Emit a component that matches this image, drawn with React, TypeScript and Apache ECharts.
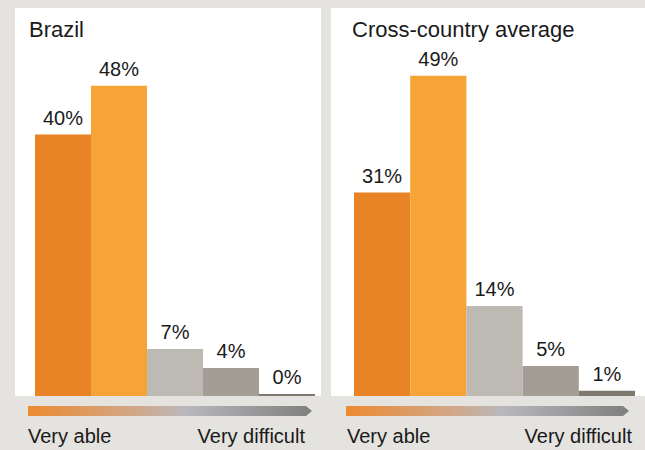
import React, { useEffect, useRef } from "react";
import * as echarts from "echarts";

const categories = ["Very able", "Able", "Somewhat difficult", "Difficult", "Very difficult"];
const brazilValues = [40.1, 47.6, 7.2, 4.3, 0.3];
const averageValues = [31.2, 49.1, 13.8, 4.6, 0.8];
const panelTitles = ["Brazil", "Cross-country average"];
const scaleLabels = ["Very able", "Very difficult"];
const barColors = ["#e98426", "#f5a435", "#bdb9b3", "#a39d95", "#7e786f"];

const FONT = "'Liberation Sans', Arial, sans-serif";

function arrowPoints(x0: number, x1: number, y: number, h: number, tip: number) {
  return [
    [x0, y],
    [x1 - tip, y],
    [x1, y + h / 2],
    [x1 - tip, y + h],
    [x0, y + h],
  ];
}

const gradient = () =>
  new echarts.graphic.LinearGradient(0, 0, 1, 0, [
    { offset: 0, color: "#ec8a30" },
    { offset: 0.4, color: "#cfa98e" },
    { offset: 0.55, color: "#b9b8bd" },
    { offset: 1, color: "#7f7f7f" },
  ]);

export default function App() {
  const ref = useRef<HTMLDivElement>(null);
  useEffect(() => {
    if (!ref.current) return;
    const chart = echarts.init(ref.current, null, { renderer: "svg" });
    const grids = [
      { left: 35, top: 70, width: 280, height: 326 },
      { left: 354, top: 70, width: 281, height: 326 },
    ];
    const mkSeries = (data: number[], idx: number) => ({
      type: "bar",
      xAxisIndex: idx,
      yAxisIndex: idx,
      barCategoryGap: "0%",
      data: data.map((v, i) => ({ value: v, itemStyle: { color: barColors[i] } })),
      label: {
        show: true,
        position: "top",
        distance: 7,
        fontSize: 20,
        fontFamily: FONT,
        color: "#1a1a1a",
        formatter: (p: any) => Math.round(p.value) + "%",
      },
    });
    chart.setOption({
      animation: false,
      backgroundColor: "#e4e3df",
      grid: grids,
      xAxis: grids.map((_, i) => ({
        type: "category",
        gridIndex: i,
        data: categories,
        show: false,
      })),
      yAxis: grids.map((_, i) => ({
        type: "value",
        gridIndex: i,
        min: 0,
        max: 50,
        show: false,
      })),
      series: [mkSeries(brazilValues, 0), mkSeries(averageValues, 1)],
      graphic: [
        { type: "rect", z: -10, shape: { x: 15, y: 8, width: 306, height: 388 }, style: { fill: "#ffffff" } },
        { type: "rect", z: -10, shape: { x: 331, y: 8, width: 314, height: 388 }, style: { fill: "#ffffff" } },
        {
          type: "text", x: 29, y: 29.5,
          style: { text: panelTitles[0], fontSize: 22, fontFamily: FONT, fill: "#1a1a1a", verticalAlign: "middle" },
        },
        {
          type: "text", x: 352, y: 29.5,
          style: { text: panelTitles[1], fontSize: 22, fontFamily: FONT, fill: "#1a1a1a", verticalAlign: "middle" },
        },
        { type: "polygon", shape: { points: arrowPoints(28, 312, 406, 10, 6) }, style: { fill: gradient() } },
        { type: "polygon", shape: { points: arrowPoints(346, 629, 406, 10, 6) }, style: { fill: gradient() } },
        {
          type: "text", x: 28, y: 436,
          style: { text: scaleLabels[0], fontSize: 20, fontFamily: FONT, fill: "#1a1a1a", verticalAlign: "middle" },
        },
        {
          type: "text", x: 305, y: 436,
          style: { text: scaleLabels[1], fontSize: 20, fontFamily: FONT, fill: "#1a1a1a", verticalAlign: "middle", align: "right" },
        },
        {
          type: "text", x: 347, y: 436,
          style: { text: scaleLabels[0], fontSize: 20, fontFamily: FONT, fill: "#1a1a1a", verticalAlign: "middle" },
        },
        {
          type: "text", x: 632, y: 436,
          style: { text: scaleLabels[1], fontSize: 20, fontFamily: FONT, fill: "#1a1a1a", verticalAlign: "middle", align: "right" },
        },
      ],
    });
    return () => chart.dispose();
  }, []);
  return (
    <div
      ref={ref}
      style={{ position: "fixed", left: 0, top: 0, width: 645, height: 450 }}
    />
  );
}
